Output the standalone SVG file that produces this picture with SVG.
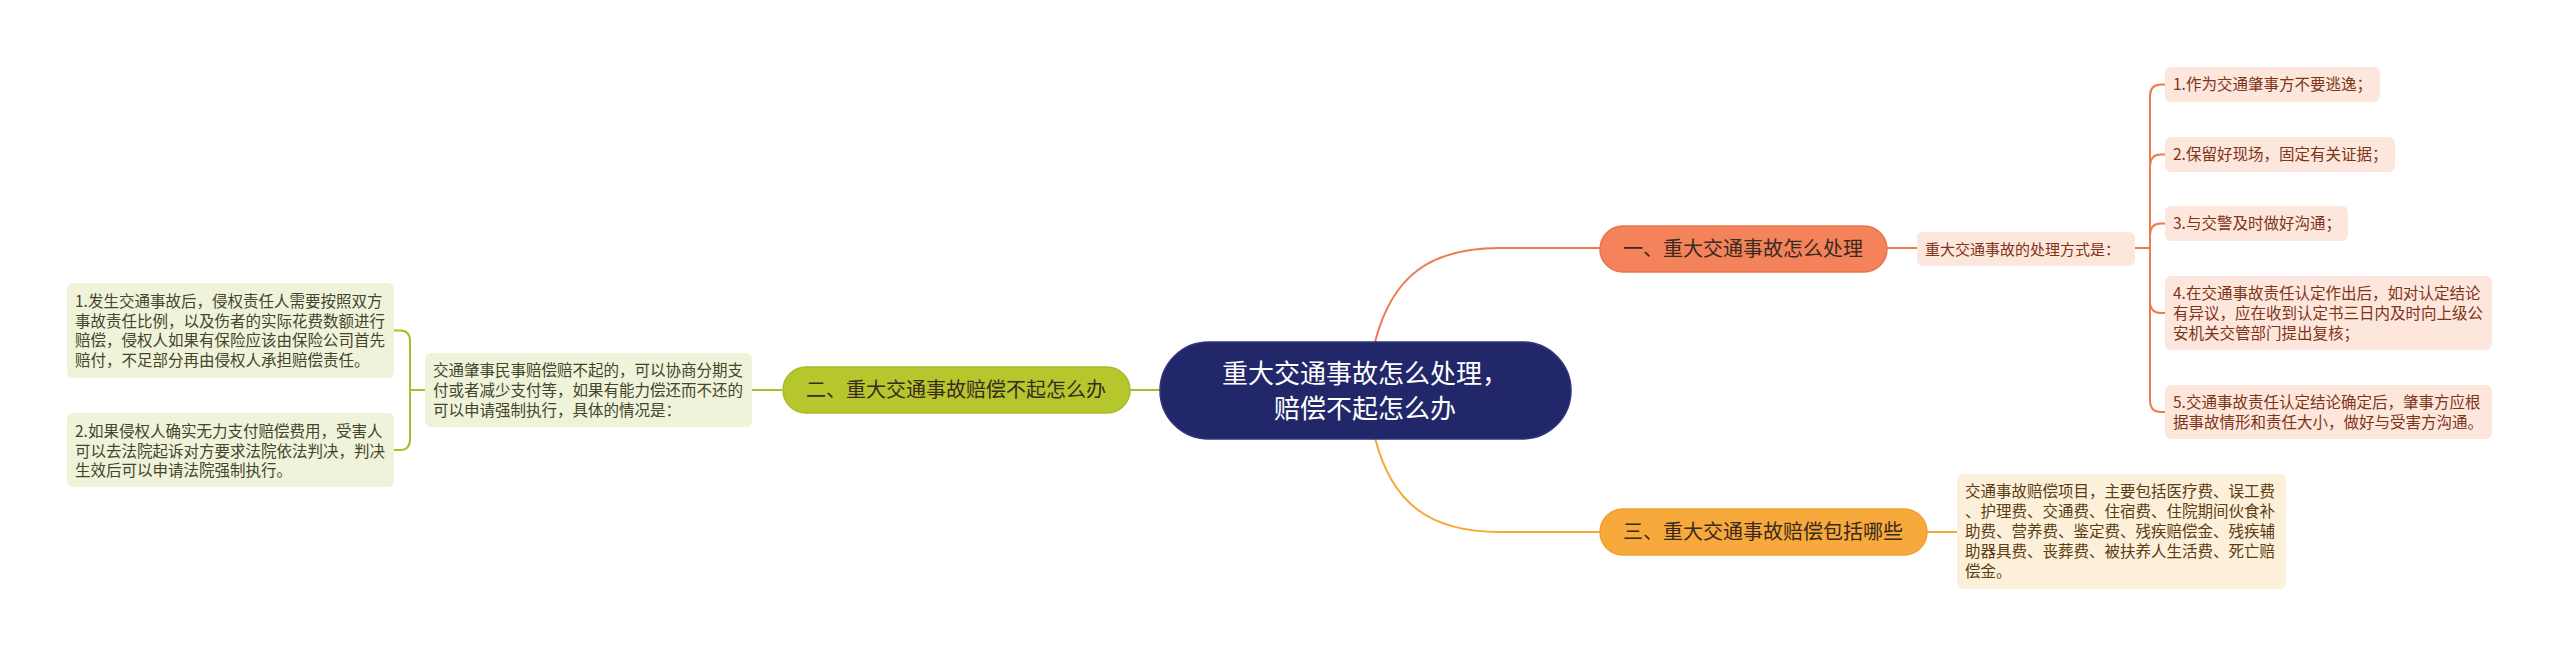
<svg xmlns="http://www.w3.org/2000/svg" width="2560" height="657" viewBox="0 0 2560 657">
<style>
text{font-family:"Noto Sans CJK SC","Noto Sans",sans-serif;}
.root{fill:#22276a;stroke:#2f3580;stroke-width:1.5}
.roott{fill:#ffffff;font-size:26px;text-anchor:middle}
.b1{fill:#f4825a;stroke:#e8744c;stroke-width:1.5}
.b2{fill:#b5c72d;stroke:#a9bb25;stroke-width:1.5}
.b3{fill:#f7a93b;stroke:#eea030;stroke-width:1.5}
.bt{fill:#3a2a20;font-size:20px;text-anchor:middle}
.lo{fill:#fde7dd}
.lg{fill:#eff3da}
.la{fill:#fdf0da}
.to{fill:#7e3417;font-size:15.5px}
.tg{fill:#45452c;font-size:15.5px}
.ta{fill:#5c3c12;font-size:15.5px}
.co{fill:none;stroke:#ec7b52;stroke-width:2}
.cg{fill:none;stroke:#a8be2a;stroke-width:2}
.ca{fill:none;stroke:#f5a733;stroke-width:2}
</style>
<rect width="2560" height="657" fill="#ffffff"/>
<g id="connectors">
  <path class="co" d="M1375,342 C1392,276 1430,248 1500,248 L1600,248"/>
  <path class="ca" d="M1375,438 C1392,504 1430,532 1500,532 L1600,532"/>
  <path class="cg" d="M1130,390 L1160,390"/>
  <path class="co" d="M1887,248 L1917,248"/>
  <path class="co" d="M2135,248 L2150,248"/>
  <path class="co" d="M2150,96 L2150,400"/>
  <path class="co" d="M2150,96 Q2150,84.5 2161,84.5 L2165,84.5"/>
  <path class="co" d="M2150,166 Q2150,154.5 2161,154.5 L2165,154.5"/>
  <path class="co" d="M2150,235 Q2150,223.5 2161,223.5 L2165,223.5"/>
  <path class="co" d="M2150,301 Q2150,313 2161,313 L2165,313"/>
  <path class="co" d="M2150,400 Q2150,412 2161,412 L2165,412"/>
  <path class="cg" d="M752,390 L782,390"/>
  <path class="cg" d="M425,390 L410,390"/>
  <path class="cg" d="M410,341 L410,439"/>
  <path class="cg" d="M410,341 Q410,330.5 400,330.5 L394,330.5"/>
  <path class="cg" d="M410,439 Q410,450 400,450 L394,450"/>
  <path class="ca" d="M1927,532 L1957,532"/>
</g>
<g id="root">
  <rect class="root" x="1160" y="342" width="411" height="97" rx="48.5"/>
  <text class="roott" x="1365" y="383">重大交通事故怎么处理，</text>
  <text class="roott" x="1365" y="418">赔偿不起怎么办</text>
</g>
<g id="branch1">
  <rect class="b1" x="1600" y="226" width="287" height="46" rx="23"/>
  <text class="bt" x="1743" y="256">一、重大交通事故怎么处理</text>
</g>
<g id="branch2">
  <rect class="b2" x="783" y="367" width="347" height="46" rx="23"/>
  <text class="bt" x="956" y="397">二、重大交通事故赔偿不起怎么办</text>
</g>
<g id="branch3">
  <rect class="b3" x="1600" y="509" width="327" height="46" rx="23"/>
  <text class="bt" x="1763" y="539">三、重大交通事故赔偿包括哪些</text>
</g>
<g id="b1-sub">
  <rect class="lo" x="1917" y="232" width="218" height="34" rx="6"/>
  <text class="to" x="1925" y="255" style="font-size:15px">重大交通事故的处理方式是：</text>
</g>
<g id="b1-leaf1">
  <rect class="lo" x="2165" y="67" width="215" height="35" rx="6"/>
  <text class="to" x="2173" y="90">1.作为交通肇事方不要逃逸；</text>
</g>
<g id="b1-leaf2">
  <rect class="lo" x="2165" y="137" width="230" height="35" rx="6"/>
  <text class="to" x="2173" y="160">2.保留好现场，固定有关证据；</text>
</g>
<g id="b1-leaf3">
  <rect class="lo" x="2165" y="206" width="183" height="35" rx="6"/>
  <text class="to" x="2173" y="229">3.与交警及时做好沟通；</text>
</g>
<g id="b1-leaf4">
  <rect class="lo" x="2165" y="276" width="327" height="74" rx="6"/>
  <text class="to" x="2173" y="299">4.在交通事故责任认定作出后，如对认定结论</text>
  <text class="to" x="2173" y="319">有异议，应在收到认定书三日内及时向上级公</text>
  <text class="to" x="2173" y="339">安机关交管部门提出复核；</text>
</g>
<g id="b1-leaf5">
  <rect class="lo" x="2165" y="385" width="327" height="54" rx="6"/>
  <text class="to" x="2173" y="408">5.交通事故责任认定结论确定后，肇事方应根</text>
  <text class="to" x="2173" y="428">据事故情形和责任大小，做好与受害方沟通。</text>
</g>
<g id="b2-sub">
  <rect class="lg" x="425" y="353" width="327" height="74" rx="6"/>
  <text class="tg" x="433" y="376">交通肇事民事赔偿赔不起的，可以协商分期支</text>
  <text class="tg" x="433" y="396">付或者减少支付等，如果有能力偿还而不还的</text>
  <text class="tg" x="433" y="416">可以申请强制执行，具体的情况是：</text>
</g>
<g id="b2-leaf1">
  <rect class="lg" x="67" y="283" width="327" height="95" rx="6"/>
  <text class="tg" x="75" y="307">1.发生交通事故后，侵权责任人需要按照双方</text>
  <text class="tg" x="75" y="327">事故责任比例，以及伤者的实际花费数额进行</text>
  <text class="tg" x="75" y="346">赔偿，侵权人如果有保险应该由保险公司首先</text>
  <text class="tg" x="75" y="366">赔付，不足部分再由侵权人承担赔偿责任。</text>
</g>
<g id="b2-leaf2">
  <rect class="lg" x="67" y="413" width="327" height="74" rx="6"/>
  <text class="tg" x="75" y="437">2.如果侵权人确实无力支付赔偿费用，受害人</text>
  <text class="tg" x="75" y="457">可以去法院起诉对方要求法院依法判决，判决</text>
  <text class="tg" x="75" y="476">生效后可以申请法院强制执行。</text>
</g>
<g id="b3-sub">
  <rect class="la" x="1957" y="474" width="329" height="115" rx="6"/>
  <text class="ta" x="1965" y="497">交通事故赔偿项目，主要包括医疗费、误工费</text>
  <text class="ta" x="1965" y="517">、护理费、交通费、住宿费、住院期间伙食补</text>
  <text class="ta" x="1965" y="537">助费、营养费、鉴定费、残疾赔偿金、残疾辅</text>
  <text class="ta" x="1965" y="557">助器具费、丧葬费、被扶养人生活费、死亡赔</text>
  <text class="ta" x="1965" y="577">偿金。</text>
</g>
</svg>
